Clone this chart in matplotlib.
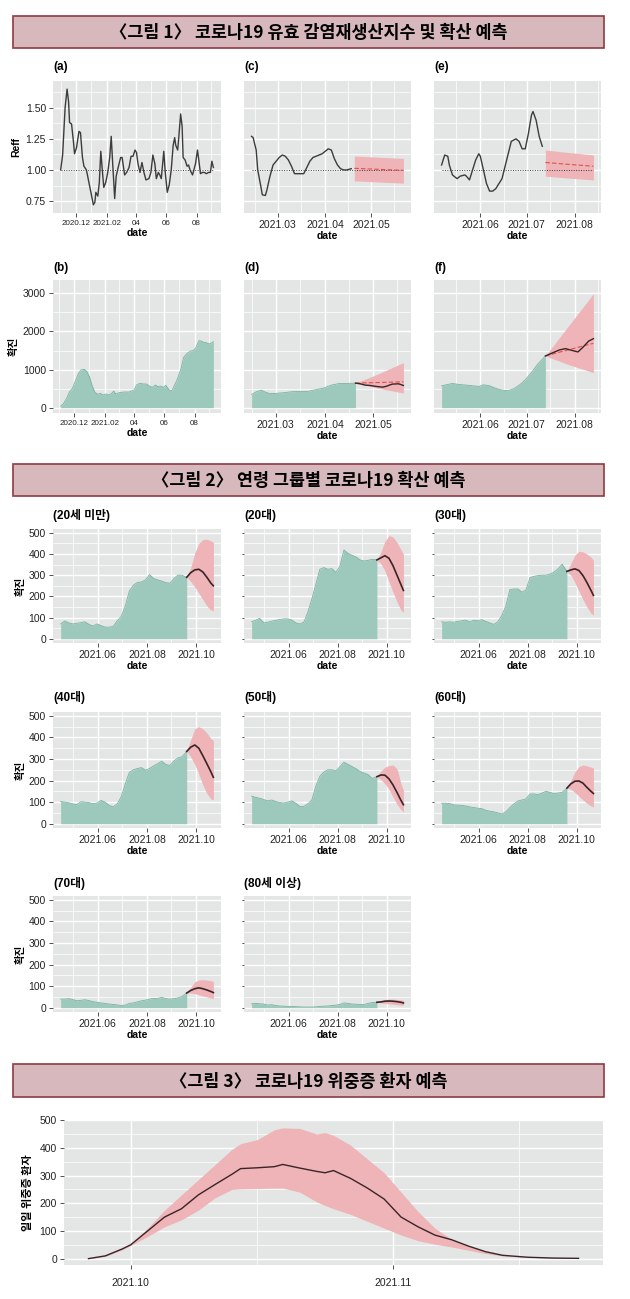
import pandas as pd
import matplotlib
matplotlib.use('Agg')
import matplotlib.pyplot as plt
from matplotlib.patches import Rectangle
from matplotlib.ticker import FixedLocator, FixedFormatter
import matplotlib.dates as mdates
from matplotlib import font_manager

# ---------------- data ----------------
# 그림 1 (a) 유효 감염재생산지수
reff_dates = ['2020-10-31', '2020-11-04', '2020-11-09', '2020-11-13', '2020-11-16', '2020-11-18',
              '2020-11-22', '2020-11-26', '2020-11-28', '2020-12-02', '2020-12-07', '2020-12-10',
              '2020-12-14', '2020-12-17', '2020-12-22', '2020-12-27', '2021-01-01', '2021-01-05',
              '2021-01-08', '2021-01-10', '2021-01-14', '2021-01-17', '2021-01-20', '2021-01-23',
              '2021-01-26', '2021-01-30', '2021-02-03', '2021-02-07', '2021-02-10', '2021-02-13',
              '2021-02-17', '2021-02-20', '2021-02-24', '2021-03-01', '2021-03-04', '2021-03-09',
              '2021-03-13', '2021-03-18', '2021-03-22', '2021-03-26', '2021-03-30', '2021-04-02',
              '2021-04-05', '2021-04-09', '2021-04-13', '2021-04-17', '2021-04-21', '2021-04-27',
              '2021-05-01', '2021-05-05', '2021-05-09', '2021-05-12', '2021-05-16', '2021-05-19',
              '2021-05-22', '2021-05-27', '2021-05-30', '2021-06-03', '2021-06-07', '2021-06-11',
              '2021-06-15', '2021-06-18', '2021-06-20', '2021-06-24', '2021-06-26', '2021-06-30',
              '2021-07-03', '2021-07-05', '2021-07-09', '2021-07-13', '2021-07-16', '2021-07-19',
              '2021-07-24', '2021-07-30', '2021-08-03', '2021-08-05', '2021-08-09', '2021-08-13',
              '2021-08-17', '2021-08-21', '2021-08-25', '2021-08-29', '2021-09-01', '2021-09-04']
reff_vals = [1.00, 1.12, 1.50, 1.65, 1.55, 1.38, 1.37, 1.22, 1.13, 1.18, 1.31, 1.30,
             1.10, 1.03, 1.00, 0.90, 0.80, 0.72, 0.74, 0.82, 0.79, 0.90, 1.15, 1.00,
             0.86, 0.90, 0.98, 1.10, 1.27, 1.05, 0.77, 0.95, 1.02, 1.10, 1.10, 0.96,
             0.98, 1.02, 1.11, 1.11, 1.16, 1.14, 1.05, 0.98, 1.06, 0.98, 0.92, 0.93,
             0.98, 1.12, 1.05, 0.93, 0.98, 0.96, 0.93, 1.15, 0.98, 0.82, 0.88, 1.00,
             1.20, 1.26, 1.20, 1.16, 1.25, 1.45, 1.35, 1.10, 1.08, 1.03, 1.04, 1.00,
             0.96, 1.05, 1.16, 1.10, 0.97, 0.98, 0.98, 0.97, 0.98, 0.98, 1.07, 1.02]

# (c) Reff, Feb-Apr + forecast
c_dates = ['2021-02-12', '2021-02-13', '2021-02-15', '2021-02-16', '2021-02-18', '2021-02-19',
           '2021-02-21', '2021-02-22', '2021-02-24', '2021-02-26', '2021-02-28', '2021-03-02',
           '2021-03-04', '2021-03-06', '2021-03-08', '2021-03-10', '2021-03-12', '2021-03-14',
           '2021-03-16', '2021-03-18', '2021-03-20', '2021-03-22', '2021-03-24', '2021-03-26',
           '2021-03-28', '2021-03-30', '2021-04-01', '2021-04-03', '2021-04-05', '2021-04-07',
           '2021-04-09', '2021-04-11', '2021-04-13', '2021-04-15', '2021-04-18']
c_vals = [1.27, 1.26, 1.16, 1.00, 0.87, 0.80, 0.795, 0.84, 0.95, 1.04, 1.07, 1.10,
          1.12, 1.11, 1.08, 1.03, 0.97, 0.97, 0.97, 0.97, 1.02, 1.07, 1.10, 1.11,
          1.12, 1.13, 1.15, 1.17, 1.16, 1.09, 1.04, 1.01, 1.00, 1.00, 1.01]
c_fc_dates = ['2021-04-20', '2021-05-06', '2021-05-22']
c_fc_mid = [1.013, 1.005, 0.997]
c_fc_lo = [0.912, 0.903, 0.894]
c_fc_hi = [1.112, 1.102, 1.093]

# (e) Reff, May-Jul + forecast
e_dates = ['2021-05-07', '2021-05-09', '2021-05-11', '2021-05-12', '2021-05-14', '2021-05-17',
           '2021-05-19', '2021-05-22', '2021-05-23', '2021-05-25', '2021-05-26', '2021-05-29',
           '2021-05-31', '2021-06-01', '2021-06-03', '2021-06-05', '2021-06-07', '2021-06-09',
           '2021-06-11', '2021-06-13', '2021-06-15', '2021-06-17', '2021-06-19', '2021-06-21',
           '2021-06-24', '2021-06-26', '2021-06-28', '2021-06-30', '2021-07-02', '2021-07-04',
           '2021-07-05', '2021-07-07', '2021-07-09', '2021-07-11']
e_vals = [1.04, 1.12, 1.11, 1.04, 0.96, 0.93, 0.95, 0.96, 0.95, 0.92, 0.96, 1.08,
          1.13, 1.11, 1.00, 0.89, 0.83, 0.83, 0.85, 0.89, 0.93, 1.03, 1.13, 1.23,
          1.25, 1.23, 1.17, 1.17, 1.29, 1.44, 1.47, 1.40, 1.27, 1.19]
e_fc_dates = ['2021-07-13', '2021-07-28', '2021-08-13']
e_fc_mid = [1.06, 1.045, 1.03]
e_fc_lo = [0.95, 0.935, 0.92]
e_fc_hi = [1.16, 1.14, 1.12]

# (b) 확진
b_dates = ['2020-11-04', '2020-11-09', '2020-11-16', '2020-11-22', '2020-11-28', '2020-12-03',
           '2020-12-10', '2020-12-15', '2020-12-22', '2020-12-27', '2021-01-01', '2021-01-06',
           '2021-01-12', '2021-01-18', '2021-01-23', '2021-01-28', '2021-02-03', '2021-02-09',
           '2021-02-15', '2021-02-19', '2021-02-23', '2021-03-02', '2021-03-12', '2021-03-22',
           '2021-04-01', '2021-04-06', '2021-04-13', '2021-04-20', '2021-04-26', '2021-05-02',
           '2021-05-08', '2021-05-14', '2021-05-19', '2021-05-24', '2021-05-30', '2021-06-04',
           '2021-06-11', '2021-06-16', '2021-06-22', '2021-06-28', '2021-07-05', '2021-07-10',
           '2021-07-17', '2021-07-24', '2021-07-29', '2021-08-03', '2021-08-10', '2021-08-14',
           '2021-08-20', '2021-08-25', '2021-08-30', '2021-09-03', '2021-09-08']
b_vals = [44, 90, 245, 420, 507, 680, 900, 990, 1006, 945, 815, 595, 402, 350, 376, 332,
          359, 332, 376, 437, 359, 394, 411, 411, 464, 595, 639, 621, 621, 569, 534, 595,
          551, 569, 534, 586, 464, 437, 595, 770, 1032, 1321, 1426, 1487, 1496, 1557, 1759,
          1750, 1715, 1706, 1671, 1689, 1732]

# (d)
d_dates = ['2021-02-14', '2021-02-17', '2021-02-20', '2021-02-22', '2021-02-25', '2021-03-01',
           '2021-03-06', '2021-03-11', '2021-03-16', '2021-03-21', '2021-03-26', '2021-03-31',
           '2021-04-05', '2021-04-10', '2021-04-15', '2021-04-20']
d_vals = [348, 418, 461, 418, 374, 374, 392, 418, 426, 426, 470, 513, 592, 635, 635, 644]
d_obs_dates = ['2021-04-20', '2021-04-23', '2021-04-26', '2021-04-29', '2021-05-03',
               '2021-05-07', '2021-05-09', '2021-05-13', '2021-05-17', '2021-05-20']
d_obs_vals = [644, 626, 592, 583, 557, 539, 557, 618, 626, 583]
d_fc_dates = ['2021-04-20', '2021-05-05', '2021-05-20']
d_fc_mid = [644, 660, 679]
d_fc_lo = [644, 505, 383]
d_fc_hi = [644, 900, 1183]

# (f)
f_dates = ['2021-05-07', '2021-05-10', '2021-05-14', '2021-05-18', '2021-05-23', '2021-05-27',
           '2021-05-31', '2021-06-03', '2021-06-07', '2021-06-11', '2021-06-15', '2021-06-19',
           '2021-06-23', '2021-06-27', '2021-06-30', '2021-07-04', '2021-07-08', '2021-07-13']
f_vals = [574, 600, 635, 609, 592, 574, 557, 600, 574, 505, 461, 444, 505, 618, 731, 922,
          1140, 1357]
f_obs_dates = ['2021-07-13', '2021-07-17', '2021-07-22', '2021-07-26', '2021-07-30',
               '2021-08-03', '2021-08-06', '2021-08-10', '2021-08-13']
f_obs_vals = [1357, 1427, 1514, 1549, 1505, 1462, 1575, 1749, 1810]
f_fc_dates = ['2021-07-13', '2021-07-28', '2021-08-13']
f_fc_mid = [1357, 1520, 1688]
f_fc_lo = [1357, 1130, 920]
f_fc_hi = [1357, 2150, 2990]

# 그림 2 연령 그룹별
age_dates = ['2021-04-16', '2021-04-21', '2021-04-26', '2021-05-01', '2021-05-06', '2021-05-11',
             '2021-05-16', '2021-05-21', '2021-05-26', '2021-05-31', '2021-06-05', '2021-06-10',
             '2021-06-15', '2021-06-20', '2021-06-25', '2021-06-30', '2021-07-05', '2021-07-10',
             '2021-07-15', '2021-07-20', '2021-07-25', '2021-07-30', '2021-08-04', '2021-08-09',
             '2021-08-14', '2021-08-19', '2021-08-24', '2021-08-29', '2021-09-03', '2021-09-08',
             '2021-09-13', '2021-09-19']
age_fc_dates = ['2021-09-19', '2021-09-24', '2021-09-29', '2021-10-04', '2021-10-09',
                '2021-10-14', '2021-10-19', '2021-10-22']
age_titles = ['(20세 미만)', '(20대)', '(30대)', '(40대)', '(50대)', '(60대)', '(70대)', '(80세 이상)']

u20 = [70, 84, 75, 70, 73, 76, 80, 68, 60, 70, 62, 55, 55, 58, 85, 105, 155, 225, 253, 266,
       268, 278, 303, 285, 278, 272, 265, 262, 283, 300, 300, 290]
u20_mid = [290, 312, 325, 328, 315, 290, 262, 250]
u20_lo = [290, 270, 245, 215, 185, 155, 135, 133]
u20_hi = [290, 335, 405, 450, 468, 470, 462, 455]

a20 = [81, 87, 97, 75, 78, 83, 87, 91, 94, 94, 89, 75, 70, 78, 125, 188, 258, 328, 336, 328,
       331, 313, 344, 419, 403, 394, 386, 372, 367, 370, 375, 372]
a20_mid = [372, 382, 392, 380, 345, 300, 255, 228]
a20_lo = [372, 355, 320, 270, 220, 175, 135, 125]
a20_hi = [372, 410, 460, 487, 480, 455, 420, 400]

a30 = [80, 78, 80, 78, 82, 85, 88, 80, 88, 85, 90, 82, 75, 68, 80, 110, 155, 232, 235, 235,
       220, 230, 288, 295, 298, 300, 300, 305, 315, 330, 352, 318]
a30_mid = [318, 325, 330, 322, 298, 265, 228, 205]
a30_lo = [318, 300, 265, 225, 185, 150, 120, 112]
a30_hi = [318, 355, 395, 413, 410, 400, 385, 370]

a40 = [103, 100, 97, 92, 88, 102, 100, 98, 92, 96, 108, 100, 85, 78, 92, 125, 185, 238, 250, 256,
       260, 248, 256, 268, 278, 290, 275, 270, 290, 305, 310, 335]
a40_mid = [335, 355, 365, 350, 315, 278, 240, 215]
a40_lo = [335, 310, 275, 230, 180, 140, 115, 110]
a40_hi = [335, 390, 440, 450, 440, 420, 395, 385]

a50 = [128, 122, 118, 112, 106, 110, 103, 98, 96, 100, 106, 95, 80, 80, 92, 110, 175, 220, 240, 250,
       250, 245, 265, 285, 275, 265, 255, 242, 235, 228, 210, 218]
a50_mid = [218, 226, 225, 208, 180, 145, 108, 88]
a50_lo = [218, 205, 185, 160, 125, 90, 65, 55]
a50_hi = [218, 245, 262, 270, 272, 255, 185, 155]

a60 = [95, 95, 93, 88, 86, 85, 82, 78, 75, 72, 70, 62, 58, 55, 50, 45, 55, 75, 92, 105,
       110, 115, 138, 138, 135, 142, 150, 145, 140, 142, 145, 165]
a60_mid = [165, 185, 197, 198, 188, 168, 150, 140]
a60_lo = [165, 160, 145, 128, 110, 95, 82, 78]
a60_hi = [165, 200, 240, 265, 272, 268, 262, 258]

a70 = [40, 40, 42, 38, 32, 34, 37, 33, 28, 25, 22, 20, 17, 15, 13, 10, 12, 20, 22, 27,
       32, 35, 40, 43, 42, 48, 42, 40, 42, 45, 52, 68]
a70_mid = [68, 80, 88, 92, 88, 82, 75, 70]
a70_lo = [68, 68, 65, 60, 55, 50, 45, 42]
a70_hi = [68, 95, 120, 128, 130, 128, 125, 122]

a80 = [18, 20, 18, 17, 12, 14, 10, 8, 7, 6, 6, 5, 4, 3, 3, 3, 4, 6, 7, 8,
       10, 12, 15, 22, 20, 17, 16, 15, 14, 20, 24, 25]
a80_mid = [25, 27, 30, 31, 30, 28, 25, 22]
a80_lo = [25, 22, 20, 18, 16, 14, 12, 12]
a80_hi = [25, 32, 38, 40, 40, 38, 36, 35]

# 그림 3 위중증 환자
sev_dates = ['2021-09-26', '2021-09-28', '2021-09-30', '2021-10-01', '2021-10-03', '2021-10-05',
             '2021-10-07', '2021-10-09', '2021-10-11', '2021-10-13', '2021-10-14', '2021-10-16',
             '2021-10-18', '2021-10-19', '2021-10-21', '2021-10-23', '2021-10-24', '2021-10-25',
             '2021-10-27', '2021-10-29', '2021-10-31', '2021-11-02', '2021-11-04', '2021-11-06',
             '2021-11-08', '2021-11-10', '2021-11-12', '2021-11-14', '2021-11-17', '2021-11-20',
             '2021-11-23']
sev_mid = [0, 10, 35, 50, 100, 150, 180, 230, 268, 305, 325, 328, 332, 340, 327, 315, 310, 318,
           290, 255, 215, 150, 115, 85, 68, 45, 25, 12, 5, 2, 1]
sev_lo = [0, 8, 32, 48, 80, 115, 140, 175, 220, 250, 252, 253, 255, 255, 240, 205, 192, 180,
          160, 135, 110, 85, 65, 52, 42, 30, 18, 10, 5, 2, 1]
sev_hi = [0, 12, 38, 52, 110, 175, 230, 285, 340, 395, 415, 430, 465, 472, 470, 450, 455, 445,
          410, 360, 310, 240, 170, 110, 70, 45, 25, 12, 6, 3, 1]

# ---------------- style ----------------
names = {f.name for f in font_manager.fontManager.ttflist}
NARROW = 'Liberation Sans Narrow' if 'Liberation Sans Narrow' in names else 'Liberation Sans'
KR = 'Noto Sans CJK KR'
plt.rcParams['font.family'] = [NARROW, KR]

BG = '#E4E5E5'
TEAL = '#9DC9BC'
TEAL_EDGE = '#78B3A3'
PINK = '#EEB4B7'
DARK = '#3A2427'
GREY_LINE = '#3C3C3C'
RED = '#E0504C'
BAR = '#D7B8BC'
BAR_EDGE = '#8E3A46'

W, H = 630, 1299
fig = plt.figure(figsize=(W / 100, H / 100), dpi=100)
fig.patch.set_facecolor('white')

cols = [(53, 221), (244, 411), (434, 601)]


def dt(x):
    return pd.to_datetime(x)


def title_bar(y0, y1, text):
    fig.patches.append(Rectangle((13 / W, 1 - y1 / H), (604 - 13) / W, (y1 - y0) / H,
                                 transform=fig.transFigure, facecolor=BAR,
                                 edgecolor=BAR_EDGE, lw=1.2))
    fig.text(308.5 / W, 1 - (y0 + y1) / 2 / H - 0.001, text, ha='center', va='center',
             fontsize=12.5, fontweight='bold', family=KR)


def panel(x0, x1, y0, y1):
    ax = fig.add_axes([x0 / W, 1 - y1 / H, (x1 - x0) / W, (y1 - y0) / H])
    ax.set_facecolor(BG)
    for s in ax.spines.values():
        s.set_visible(False)
    ax.tick_params(length=3, width=0.6, color='#333333', labelsize=7.5, pad=2,
                   labelcolor='#222222')
    ax.tick_params(which='minor', length=0)
    ax.grid(True, which='major', color='white', lw=1.0)
    ax.grid(True, which='minor', color='white', lw=0.5)
    ax.set_axisbelow(True)
    return ax


def tag(x0, y, text):
    fig.text(x0 / W, 1 - y / H, text, ha='left', va='center', fontsize=8.5,
             fontweight='bold', family=[NARROW, KR])


def date_axis(ax, major, labels, minor, xlabel=True):
    ax.xaxis.set_major_locator(FixedLocator(mdates.date2num(dt(major))))
    ax.xaxis.set_major_formatter(FixedFormatter(labels))
    ax.xaxis.set_minor_locator(FixedLocator(mdates.date2num(dt(minor))))
    if xlabel:
        ax.set_xlabel('date', fontsize=7.5, fontweight='bold', labelpad=1)


def y_axis(ax, major, minor, fmt, show):
    ax.set_yticks(major)
    ax.set_yticks(minor, minor=True)
    if show:
        ax.set_yticklabels([fmt.format(v) for v in major])
    else:
        ax.tick_params(axis='y', which='major', labelleft=False, length=0)


# ---------------- 그림 1 ----------------
title_bar(16, 48, '〈그림 1〉 코로나19 유효 감염재생산지수 및 확산 예측')

reff_major = [0.75, 1.00, 1.25, 1.50]
reff_minor = [0.875, 1.125, 1.375, 1.625]
case_major = [0, 1000, 2000, 3000]
case_minor = [500, 1500, 2500]
long_major = ['2020-12-01', '2021-02-01', '2021-04-01', '2021-06-01', '2021-08-01']
long_labels = ['2020.12', '2021.02', '04', '06', '08']
long_minor = ['2020-10-31', '2021-01-01', '2021-03-02', '2021-05-01', '2021-07-01', '2021-08-31']

ax_a = panel(*cols[0], 81, 213)
ax_a.plot(dt([reff_dates[0], reff_dates[-1]]), [1, 1], color=GREY_LINE, lw=0.7, ls=(0, (1, 1.5)))
ax_a.plot(dt(reff_dates), reff_vals, color=GREY_LINE, lw=1.0)
ax_a.set_ylim(0.654, 1.715)
y_axis(ax_a, reff_major, reff_minor, '{:.2f}', True)
ax_a.set_ylabel('Reff', fontsize=7.5, fontweight='bold', labelpad=3)
date_axis(ax_a, long_major, long_labels, long_minor)
ax_a.tick_params(axis='x', labelsize=5.8)
tag(53, 67, '(a)')

for (x0, x1), dates, vals, fcd, mid, lo, hi, major, labels, minor, lab in [
        (cols[1], c_dates, c_vals, c_fc_dates, c_fc_mid, c_fc_lo, c_fc_hi,
         ['2021-03-01', '2021-04-01', '2021-05-01'], ['2021.03', '2021.04', '2021.05'],
         ['2021-02-14', '2021-03-16', '2021-04-16', '2021-05-16'], '(c)'),
        (cols[2], e_dates, e_vals, e_fc_dates, e_fc_mid, e_fc_lo, e_fc_hi,
         ['2021-06-01', '2021-07-01', '2021-08-01'], ['2021.06', '2021.07', '2021.08'],
         ['2021-05-16', '2021-06-16', '2021-07-16', '2021-08-16'], '(e)')]:
    ax = panel(x0, x1, 81, 213)
    ax.plot(dt([dates[0], fcd[-1]]), [1, 1], color=GREY_LINE, lw=0.7, ls=(0, (1, 1.5)))
    ax.fill_between(dt(fcd), lo, hi, color=PINK, lw=0)
    ax.plot(dt(fcd), mid, color=RED, lw=0.8, ls=(0, (4, 2)))
    ax.plot(dt(dates), vals, color=GREY_LINE, lw=1.0)
    ax.set_ylim(0.654, 1.715)
    y_axis(ax, reff_major, reff_minor, '{:.2f}', False)
    date_axis(ax, major, labels, minor)
    tag(x0, 67, lab)

ax_b = panel(*cols[0], 280, 413)
ax_b.fill_between(dt(b_dates), 0, b_vals, color=TEAL, lw=0)
ax_b.plot(dt(b_dates), b_vals, color=TEAL_EDGE, lw=0.6)
ax_b.set_ylim(-140, 3350)
y_axis(ax_b, case_major, case_minor, '{:d}', True)
ax_b.set_ylabel('확진', fontsize=7.5, fontweight='bold', family=KR, labelpad=3)
date_axis(ax_b, long_major, long_labels, long_minor)
ax_b.tick_params(axis='x', labelsize=5.8)
tag(53, 268, '(b)')

for (x0, x1), dates, vals, od, ov, fcd, mid, lo, hi, major, labels, minor, lab in [
        (cols[1], d_dates, d_vals, d_obs_dates, d_obs_vals, d_fc_dates, d_fc_mid, d_fc_lo, d_fc_hi,
         ['2021-03-01', '2021-04-01', '2021-05-01'], ['2021.03', '2021.04', '2021.05'],
         ['2021-02-14', '2021-03-16', '2021-04-16', '2021-05-16'], '(d)'),
        (cols[2], f_dates, f_vals, f_obs_dates, f_obs_vals, f_fc_dates, f_fc_mid, f_fc_lo, f_fc_hi,
         ['2021-06-01', '2021-07-01', '2021-08-01'], ['2021.06', '2021.07', '2021.08'],
         ['2021-05-16', '2021-06-16', '2021-07-16', '2021-08-16'], '(f)')]:
    ax = panel(x0, x1, 280, 413)
    ax.fill_between(dt(dates), 0, vals, color=TEAL, lw=0)
    ax.plot(dt(dates), vals, color=TEAL_EDGE, lw=0.6)
    ax.fill_between(dt(fcd), lo, hi, color=PINK, lw=0)
    ax.plot(dt(fcd), mid, color=RED, lw=0.8, ls=(0, (4, 2)))
    ax.plot(dt(od), ov, color=DARK, lw=1.0)
    ax.set_ylim(-140, 3350)
    y_axis(ax, case_major, case_minor, '{:d}', False)
    date_axis(ax, major, labels, minor)
    tag(x0, 268, lab)

# ---------------- 그림 2 ----------------
title_bar(464, 496, '〈그림 2〉 연령 그룹별 코로나19 확산 예측')

age_series = [(u20, u20_mid, u20_lo, u20_hi), (a20, a20_mid, a20_lo, a20_hi),
              (a30, a30_mid, a30_lo, a30_hi), (a40, a40_mid, a40_lo, a40_hi),
              (a50, a50_mid, a50_lo, a50_hi), (a60, a60_mid, a60_lo, a60_hi),
              (a70, a70_mid, a70_lo, a70_hi), (a80, a80_mid, a80_lo, a80_hi)]
age_rows = [(529, 643, 515), (712, 828, 698), (896, 1012, 883)]
age_major = [0, 100, 200, 300, 400, 500]
age_minor = [50, 150, 250, 350, 450]

for i, (title, (cases, mid, lo, hi)) in enumerate(zip(age_titles, age_series)):
    r, c = divmod(i, 3)
    y0, y1, ylab = age_rows[r]
    x0, x1 = cols[c]
    ax = panel(x0, x1, y0, y1)
    ax.fill_between(dt(age_dates), 0, cases, color=TEAL, lw=0)
    ax.plot(dt(age_dates), cases, color=TEAL_EDGE, lw=0.6)
    ax.fill_between(dt(age_fc_dates), lo, hi, color=PINK, lw=0)
    ax.plot(dt(age_fc_dates), mid, color=DARK, lw=1.2)
    ax.set_ylim(-20, 518)
    ax.set_yticks(age_major)
    ax.set_yticks(age_minor, minor=True)
    if c == 0:
        ax.set_ylabel('확진', fontsize=7.5, fontweight='bold', family=KR, labelpad=2)
    else:
        ax.tick_params(axis='y', which='major', labelleft=False, length=1.5)
    date_axis(ax, ['2021-06-01', '2021-08-01', '2021-10-01'], ['2021.06', '2021.08', '2021.10'],
              ['2021-05-01', '2021-07-01', '2021-08-31'])
    tag(x0, ylab, title)

# ---------------- 그림 3 ----------------
title_bar(1064, 1097, '〈그림 3〉 코로나19 위중증 환자 예측')

ax3 = panel(64, 603, 1120, 1265)
ax3.fill_between(dt(sev_dates), sev_lo, sev_hi, color=PINK, lw=0)
ax3.plot(dt(sev_dates), sev_mid, color=DARK, lw=1.0)
ax3.set_ylim(-23, 500.5)
ax3.set_yticks(age_major)
ax3.set_yticks(age_minor, minor=True)
ax3.set_ylabel('일일 위중증 환자', fontsize=8, fontweight='bold', family=KR, labelpad=4)
date_axis(ax3, ['2021-10-01', '2021-11-01'], ['2021.10', '2021.11'],
          ['2021-10-16', '2021-11-16'], xlabel=False)
ax3.tick_params(axis='x', pad=6)

fig.savefig('out.png', dpi=100)
